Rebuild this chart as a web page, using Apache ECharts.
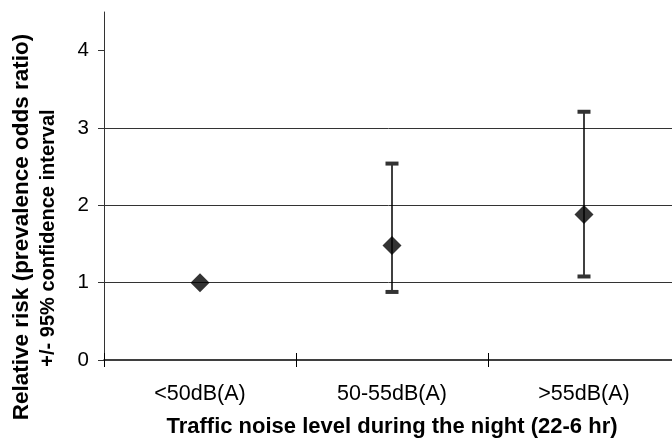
<!DOCTYPE html>
<html>
<head>
<meta charset="utf-8">
<script src="https://cdn.jsdelivr.net/npm/echarts@6/dist/echarts.min.js"></script>
<style>
html,body{margin:0;padding:0;background:#fff;}
#chart{width:672px;height:441px;}
</style>
</head>
<body>
<div id="chart"></div>
<script>
// ---- data ----
const categories = ['<50dB(A)', '50-55dB(A)', '>55dB(A)'];
const oddsRatio = [1.0, 1.48, 1.88];
const ciLower = [null, 0.88, 1.08];
const ciUpper = [null, 2.54, 3.21];
const yTicks = [0, 1, 2, 3, 4];
const xTitle = 'Traffic noise level during the night (22-6 hr)';
const yTitle = 'Relative risk (prevalence odds ratio)';
const ySubTitle = '+/- 95% confidence interval';

const FONT = "'Liberation Sans', Arial, sans-serif";

const errData = [];
categories.forEach((c, i) => {
  if (ciLower[i] != null && ciUpper[i] != null) errData.push([i, ciLower[i], ciUpper[i]]);
});

const chart = echarts.init(document.getElementById('chart'), null, {renderer: 'canvas'});
chart.setOption({
  animation: false,
  backgroundColor: '#ffffff',
  grid: {left: 104, top: 12, width: 576, height: 348, containLabel: false, outerBoundsMode: 'none'},
  xAxis: [{
    type: 'category',
    data: categories,
    boundaryGap: true,
    axisLine: {show: true, lineStyle: {color: '#000', width: 1.5}},
    axisTick: {show: true, inside: false, length: 7, lineStyle: {color: '#000', width: 1}},
    axisLabel: {show: true, color: '#000', fontSize: 21.5, fontFamily: FONT, margin: 23},
    splitLine: {show: false},
    name: xTitle,
    nameLocation: 'middle',
    nameGap: 56,
    nameTextStyle: {color: '#000', fontSize: 22, fontWeight: 'bold', fontFamily: FONT}
  }, {
    type: 'category',
    data: categories,
    position: 'bottom',
    boundaryGap: true,
    axisLine: {show: false},
    axisTick: {show: true, inside: true, length: 7, lineStyle: {color: '#000', width: 1}},
    axisLabel: {show: false},
    splitLine: {show: false}
  }],
  yAxis: {
    type: 'value',
    min: 0,
    max: 4.5,
    interval: 1,
    axisLine: {show: true, lineStyle: {color: '#333', width: 1}},
    axisTick: {show: true, inside: false, length: 6, customValues: yTicks, lineStyle: {color: '#333', width: 1}},
    axisLabel: {show: true, color: '#000', fontSize: 20.5, fontFamily: FONT, margin: 15, customValues: yTicks},
    splitLine: {show: true, showMinLine: false, showMaxLine: false, lineStyle: {color: '#333', width: 1}}
  },
  graphic: [{
    type: 'text',
    x: 22, y: 227,
    rotation: Math.PI / 2,
    style: {text: yTitle, fill: '#000', font: 'bold 22.5px ' + FONT, textAlign: 'center', textVerticalAlign: 'middle'}
  }, {
    type: 'text',
    x: 48, y: 238,
    rotation: Math.PI / 2,
    style: {text: ySubTitle, fill: '#000', font: 'bold 20px ' + FONT, textAlign: 'center', textVerticalAlign: 'middle'}
  }],
  series: [{
    type: 'custom',
    xAxisIndex: 0,
    data: errData,
    z: 3,
    renderItem: function (params, api) {
      const lo = api.coord([api.value(0), api.value(1)]);
      const hi = api.coord([api.value(0), api.value(2)]);
      const capW = 13, capH = 4;
      return {
        type: 'group',
        children: [{
          type: 'line',
          shape: {x1: lo[0], y1: lo[1], x2: hi[0], y2: hi[1]},
          style: {stroke: '#000', lineWidth: 1.5}
        }, {
          type: 'rect',
          shape: {x: hi[0] - capW / 2, y: hi[1] - capH / 2, width: capW, height: capH},
          style: {fill: '#333'}
        }, {
          type: 'rect',
          shape: {x: lo[0] - capW / 2, y: lo[1] - capH / 2, width: capW, height: capH},
          style: {fill: '#333'}
        }]
      };
    }
  }, {
    type: 'scatter',
    xAxisIndex: 0,
    data: oddsRatio,
    symbol: 'diamond',
    symbolSize: 19,
    itemStyle: {color: '#000'},
    z: 4
  }]
});
</script>
</body>
</html>
